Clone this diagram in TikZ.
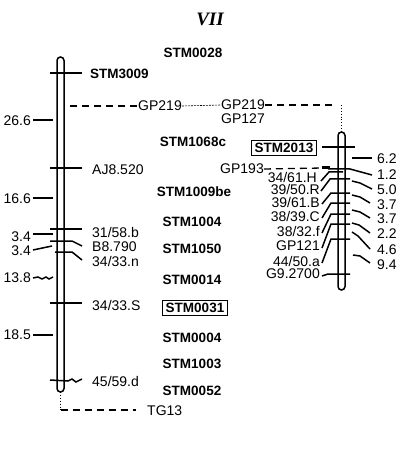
\documentclass[tikz,border=0pt]{standalone}
\usepackage{fontspec}
\setmainfont{Liberation Sans}
\newfontfamily\titlefont{Liberation Serif}
\usetikzlibrary{calc}
\begin{document}
\begin{tikzpicture}[x=1pt,y=-1pt,
  chrom/.style={draw, line width=1.5pt, rounded corners=3.5pt},
  tk/.style={line width=1.5pt},
  thin/.style={line width=0.9pt},
  dsh/.style={line width=1.3pt, dash pattern=on 7pt off 5pt},
  lbl/.style={font=\fontsize{14}{14}\selectfont, inner sep=0pt},
  blbl/.style={font=\bfseries\fontsize{13.5}{14}\selectfont, inner sep=0pt},
  boxed/.style={draw, line width=1.3pt, inner sep=3pt}]
\useasboundingbox (0,0) rectangle (409,462);
% title
\node[inner sep=0pt, font=\titlefont\bfseries\itshape\fontsize{19}{19}\selectfont] (title) at (210,19) {VII};
% left chromosome
\draw[chrom] (57,392) -- (57,57) -- (64,57) -- (64,392) -- cycle;
\coordinate (Lbot) at (60.5,392);
\coordinate (Ltg) at (60.5,410);
\draw[thin, dotted] (Lbot) -- (Ltg);
\node[lbl, anchor=west] (TG13) at (147,411) {TG13};
\draw[dsh] (Ltg) -- (136,410);
% ticks left
\draw[tk] (50,73) -- (82,73);
\node[blbl, anchor=west] (STM3009) at (90,74) {STM3009};
\node[lbl, anchor=west] (GP219a) at (138,106) {GP219};
\draw[dsh] (70,106) -- (GP219a.west);
\node[lbl, anchor=west] (GP219b) at (221,105) {GP219};
\node[lbl, anchor=west] (GP127) at (221,119) {GP127};
\draw[line width=0.6pt, dash pattern=on 2pt off 1pt] (GP219a.east) -- (GP219b.west);
\coordinate (Rtop) at (341.5,132);
\coordinate (Rdash) at (341.5,105);
\draw[dsh] (GP219b.east) -- (334,105);
\draw[thin, dotted] (Rdash) -- (Rtop);
\draw[tk] (33,120) -- (53,120);
\node[lbl, anchor=east] (d266) at (31,121) {26.6};
\draw[tk] (50,168) -- (82,168);
\node[lbl, anchor=west] (AJ8) at (92,170) {AJ8.520};
\draw[tk] (33,198) -- (53,198);
\node[lbl, anchor=east] (d166) at (31,199) {16.6};
\draw[tk] (50,229) -- (82,229);
\node[lbl, anchor=west] (m3158) at (92,232) {31/58.b};
\draw[tk] (33,234) -- (53,234);
\node[lbl, anchor=east] (d34a) at (31,237) {3.4};
\draw[tk] (50,241) -- (72,241) -- (82,246);
\node[lbl, anchor=west] (B8) at (92,247) {B8.790};
\draw[tk] (33,250) -- (52,246);
\node[lbl, anchor=east] (d34b) at (31,251) {3.4};
\draw[tk] (55,252) -- (72,252) -- (82,260);
\node[lbl, anchor=west] (m3433n) at (92,261) {34/33.n};
\draw[tk] (33,278) -- (38,277) -- (42,279) -- (46,277) -- (49,279) -- (53,277);
\node[lbl, anchor=east] (d138) at (31,278) {13.8};
\draw[tk] (50,303) -- (82,303);
\node[lbl, anchor=west] (m3433S) at (92,305) {34/33.S};
\draw[tk] (33,335) -- (53,335);
\node[lbl, anchor=east] (d185) at (31,335) {18.5};
\draw[tk] (50,380) -- (68,381) -- (72,379) -- (76,382) -- (82,379);
\node[lbl, anchor=west] (m4559) at (92,381) {45/59.d};
% middle column
\node[blbl] (STM0028) at (193,53) {STM0028};
\node[blbl] (STM1068c) at (193,142) {STM1068c};
\node[blbl] (STM1009be) at (194,192) {STM1009be};
\node[blbl] (STM1004) at (192,222) {STM1004};
\node[blbl] (STM1050) at (192,249) {STM1050};
\node[blbl] (STM0014) at (192,280) {STM0014};
\node[blbl, boxed] (STM0031) at (195,308) {STM0031};
\node[blbl] (STM0004) at (192,338) {STM0004};
\node[blbl] (STM1003) at (192,364) {STM1003};
\node[blbl] (STM0052) at (192,391) {STM0052};
% right chromosome
\draw[chrom] (338,290) -- (338,132) -- (345,132) -- (345,290) -- cycle;
\node[blbl, boxed] (STM2013) at (284,148) {STM2013};
\draw[tk] (322,147) -- (355,147);
\draw[tk] (352,158) -- (372,158);
\node[lbl, anchor=west] (r62) at (377,159) {6.2};
\node[lbl, anchor=west] (GP193) at (220,169) {GP193};
\draw[dsh] (GP193.east) -- (323,168);
\draw[line width=3pt] (322,168) -- (330,168);
\draw[tk] (328,169) -- (350,169) -- (372,175);
\node[lbl, anchor=west] (r12) at (377,175) {1.2};
% left labels of right chromosome
\node[lbl, anchor=east] (H) at (317,177.5) {34/61.H};
\node[lbl, anchor=east] (R) at (320,189.5) {39/50.R};
\node[lbl, anchor=east] (B) at (320,202) {39/61.B};
\node[lbl, anchor=east] (C) at (320,216) {38/39.C};
\node[lbl, anchor=east] (f) at (320,231) {38/32.f};
\node[lbl, anchor=east] (GP121) at (320,246) {GP121};
\node[lbl, anchor=east] (a) at (320,261) {44/50.a};
\node[lbl, anchor=east] (G9) at (320,274) {G9.2700};
\draw[tk] (321,181) -- (329,172) -- (343,172);
\draw[tk] (321,191) -- (330,179) -- (350,179);
\draw[tk] (322,204) -- (331,193) -- (350,193);
\draw[tk] (322,218) -- (331,203) -- (350,203);
\draw[tk] (322,233) -- (331,214) -- (350,214);
\draw[tk] (322,248) -- (331,224) -- (350,224);
\draw[tk] (322,263) -- (331,239) -- (350,239);
\draw[tk] (322,276) -- (328,274) -- (350,274);
% right distances
\draw[tk] (352,181) -- (360,183) -- (372,189);
\node[lbl, anchor=west] (r50) at (377,190) {5.0};
\draw[tk] (352,195) -- (360,197) -- (370,203);
\node[lbl, anchor=west] (r37a) at (377,205) {3.7};
\draw[tk] (352,210) -- (360,212) -- (370,218);
\node[lbl, anchor=west] (r37b) at (377,219) {3.7};
\draw[tk] (352,223) -- (359,225) -- (370,233);
\node[lbl, anchor=west] (r22) at (377,234) {2.2};
\draw[tk] (352,232) -- (358,236) -- (370,249);
\node[lbl, anchor=west] (r46) at (377,250) {4.6};
\draw[tk] (353,255) -- (360,256) -- (370,263);
\node[lbl, anchor=west] (r94) at (377,265) {9.4};
\end{tikzpicture}
\end{document}
